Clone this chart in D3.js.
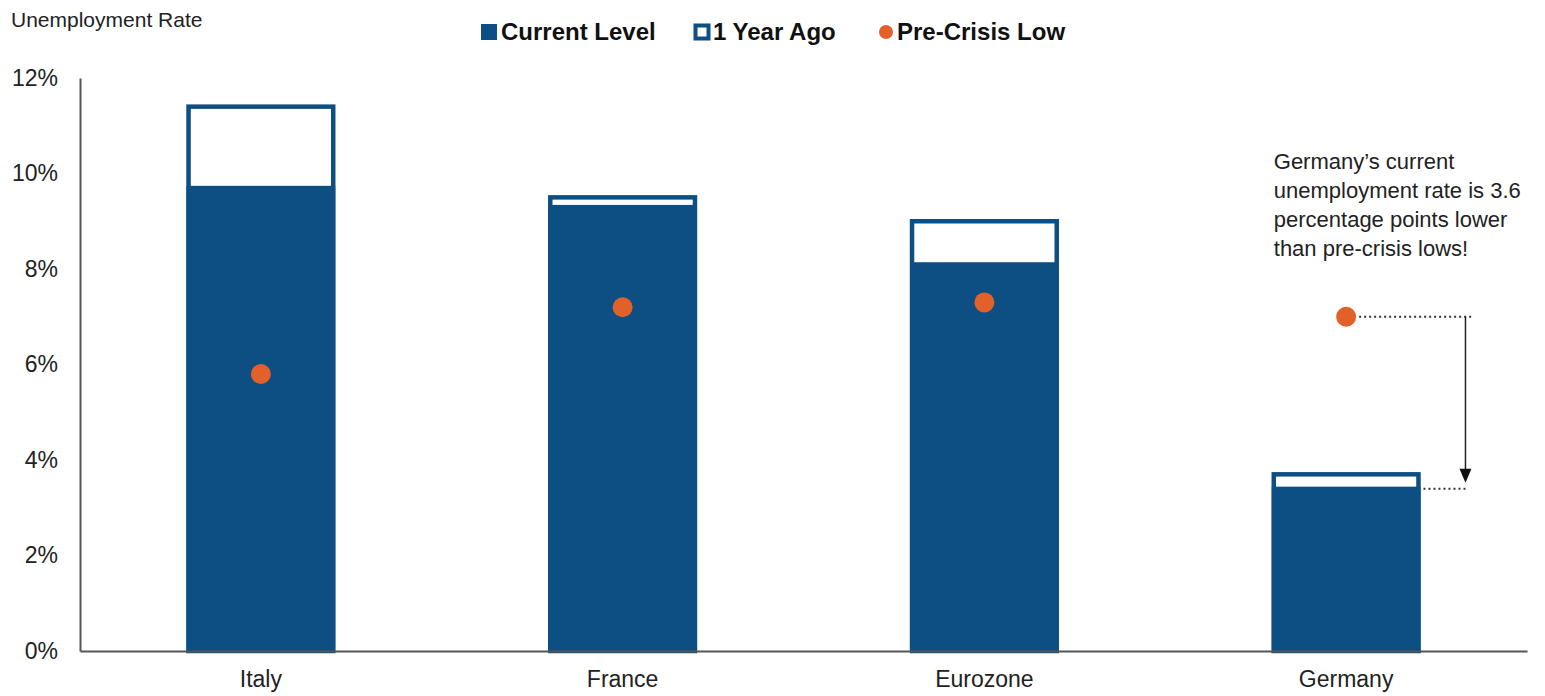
<!DOCTYPE html>
<html>
<head>
<meta charset="utf-8">
<script src="https://cdn.jsdelivr.net/npm/d3@7"></script>
<style>
  html, body { margin: 0; padding: 0; background: #ffffff; }
  svg { display: block; font-family: "Liberation Sans", Arial, sans-serif; }
</style>
</head>
<body>
<svg id="chart" width="1545" height="696"></svg>
<script>
// ---- Data ----
const categories = ["Italy", "France", "Eurozone", "Germany"];
const currentLevel = [9.7, 9.3, 8.1, 3.4];
const yearAgo = [11.4, 9.5, 9.0, 3.7];
const preCrisisLow = [5.8, 7.2, 7.3, 7.0];
const yTicks = [0, 2, 4, 6, 8, 10, 12];
const yTickLabels = ["0%", "2%", "4%", "6%", "8%", "10%", "12%"];
const legendLabels = ["Current Level", "1 Year Ago", "Pre-Crisis Low"];
const yTitle = "Unemployment Rate";
const noteLines = ["Germany\u2019s current", "unemployment rate is 3.6", "percentage points lower", "than pre-crisis lows!"];
const noteCategory = "Germany";

// ---- Styles ----
const BLUE = "#0d4f83";
const ORANGE = "#e2602a";
const AXIS = "#555555";
const TEXT = "#222222";

const svg = d3.select("#chart");
const W = 1545, H = 696;
const m = { left: 80, right: 18, top: 78, bottom: 45 };

const x = d3.scaleBand()
  .domain(categories)
  .range([m.left, W - m.right])
  .paddingInner(0.6)
  .paddingOuter(0.3);

const y = d3.scaleLinear()
  .domain([0, 12])
  .range([H - m.bottom, m.top]);

const rows = categories.map((c, i) => ({ c, cur: currentLevel[i], ago: yearAgo[i], low: preCrisisLow[i] }));

// Year-ago outlined bars
svg.append("g").selectAll("rect").data(rows).join("rect")
  .attr("x", d => x(d.c))
  .attr("width", x.bandwidth())
  .attr("y", d => y(d.ago))
  .attr("height", d => y(0) - y(d.ago))
  .attr("fill", "#ffffff")
  .attr("stroke", BLUE)
  .attr("stroke-width", 4.5);

// Current level bars
svg.append("g").selectAll("rect").data(rows).join("rect")
  .attr("x", d => x(d.c))
  .attr("width", x.bandwidth())
  .attr("y", d => y(d.cur))
  .attr("height", d => y(0) - y(d.cur))
  .attr("fill", BLUE)
  .attr("stroke", BLUE)
  .attr("stroke-width", 4);

// Pre-crisis low dots
svg.append("g").selectAll("circle").data(rows).join("circle")
  .attr("cx", d => x(d.c) + x.bandwidth() / 2)
  .attr("cy", d => y(d.low))
  .attr("r", 10)
  .attr("fill", ORANGE);

// Y axis
const yAxis = d3.axisLeft(y)
  .tickValues(yTicks)
  .tickFormat((d, i) => yTickLabels[i])
  .tickSize(0)
  .tickPadding(22);
const gy = svg.append("g").attr("transform", `translate(${m.left},0)`).call(yAxis);
gy.select(".domain").attr("stroke", AXIS).attr("stroke-width", 2);
gy.selectAll("text").attr("font-size", 23).attr("fill", TEXT)
  .attr("font-family", "'Liberation Sans', Arial, sans-serif");

// X axis
const xAxis = d3.axisBottom(x).tickSize(0).tickPadding(20);
const gx = svg.append("g").attr("transform", `translate(0,${y(0)})`).call(xAxis);
gx.select(".domain").attr("stroke", AXIS).attr("stroke-width", 2);
gx.selectAll("text").attr("font-size", 23).attr("fill", TEXT)
  .attr("font-family", "'Liberation Sans', Arial, sans-serif");

// Y title
svg.append("text")
  .attr("x", 11).attr("y", 27)
  .attr("font-size", 21).attr("fill", TEXT)
  .text(yTitle);

// Legend
const lg = svg.append("g").attr("font-size", 24).attr("font-weight", "bold").attr("fill", "#111");
lg.append("rect").attr("x", 481).attr("y", 24).attr("width", 16).attr("height", 16).attr("fill", BLUE);
lg.append("text").attr("x", 501).attr("y", 40).text(legendLabels[0]);
lg.append("rect").attr("x", 695.5).attr("y", 25.5).attr("width", 13).attr("height", 13)
  .attr("fill", "#fff").attr("stroke", BLUE).attr("stroke-width", 4);
lg.append("text").attr("x", 713).attr("y", 40).text(legendLabels[1]);
lg.append("circle").attr("cx", 886).attr("cy", 32).attr("r", 7).attr("fill", ORANGE);
lg.append("text").attr("x", 897).attr("y", 40).text(legendLabels[2]);

// Annotation
const gi = categories.indexOf(noteCategory);
const gRow = rows[gi];
const gLeft = x(noteCategory);
const gRight = gLeft + x.bandwidth();
const gCenter = gLeft + x.bandwidth() / 2;
const vx = gRight + 47;
const ann = svg.append("g");

const nt = ann.append("text").attr("font-size", 22).attr("fill", TEXT);
noteLines.forEach((t, i) => {
  nt.append("tspan").attr("x", gLeft).attr("y", 169 + i * 29).text(t);
});

// dotted line from the pre-crisis low
ann.append("line")
  .attr("x1", gCenter + 13).attr("x2", vx + 8)
  .attr("y1", y(gRow.low)).attr("y2", y(gRow.low))
  .attr("stroke", "#333").attr("stroke-width", 2).attr("stroke-dasharray", "2,3");
// dotted line from current level
ann.append("line")
  .attr("x1", gRight + 5).attr("x2", vx)
  .attr("y1", y(gRow.cur)).attr("y2", y(gRow.cur))
  .attr("stroke", "#333").attr("stroke-width", 2).attr("stroke-dasharray", "2,3");
// vertical arrow
const tipY = y(gRow.cur) - 6;
ann.append("line")
  .attr("x1", vx).attr("x2", vx)
  .attr("y1", y(gRow.low)).attr("y2", tipY - 12)
  .attr("stroke", "#222").attr("stroke-width", 1.5);
ann.append("path")
  .attr("d", `M${vx - 6},${tipY - 14} L${vx + 6},${tipY - 14} L${vx},${tipY} Z`)
  .attr("fill", "#111");
</script>
</body>
</html>
